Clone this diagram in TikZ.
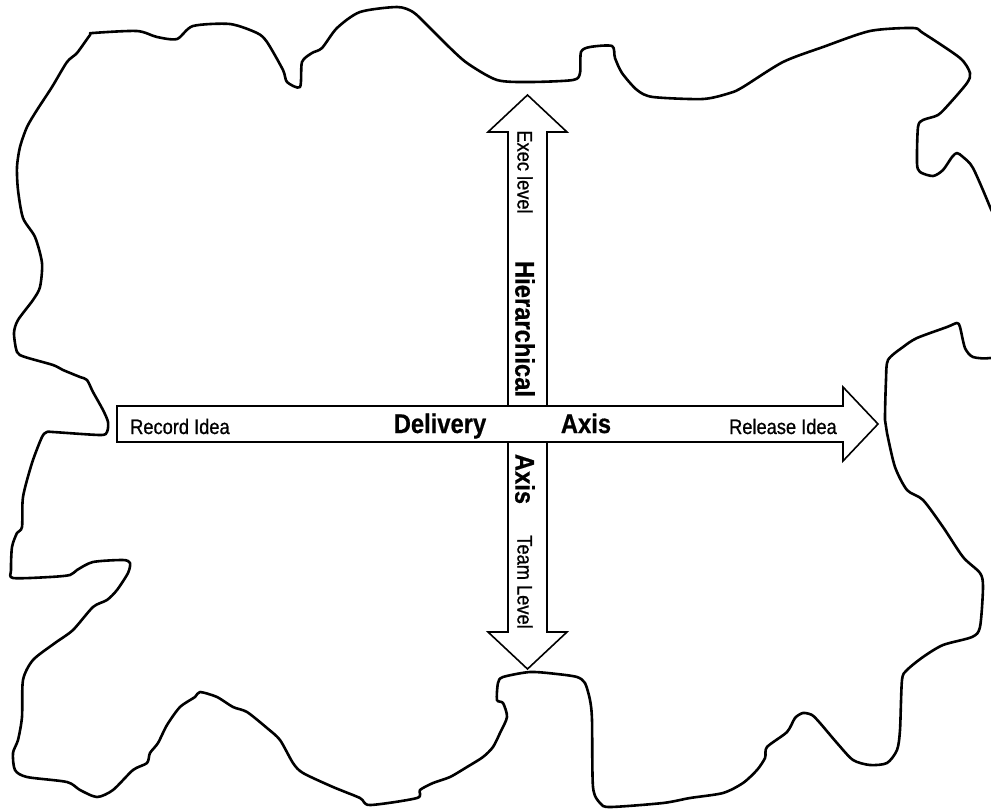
\documentclass[tikz,border=0pt]{standalone}
\usepackage{fontspec}
\setmainfont{Liberation Sans}[FakeStretch=0.88]
\newfontfamily\endfont{Liberation Sans}[FakeStretch=0.87,FakeBold=0.8]
\newfontfamily\axisfont{Liberation Sans}[FakeStretch=0.88,FakeBold=0.6]
\begin{document}
\begin{tikzpicture}[x=1pt,y=-1pt,
  hide/.style={line width=2.6pt,line join=round,black},
  axisarrow/.style={draw=black,fill=white,line width=1.6pt,line join=miter},
  endlabel/.style={inner sep=0pt,font=\endfont\fontsize{21}{21}\selectfont},
  axislabel/.style={inner sep=0pt,font=\axisfont\fontsize{27}{27}\selectfont\bfseries},
  vert/.style={rotate=-90,anchor=center}]
\useasboundingbox (0,0) rectangle (991,809);
\clip (0,0) rectangle (991,809);

% irregular hide outline
\draw[hide] plot[smooth cycle,tension=0.45] coordinates {
 (90,35) (93,33) (137,31) (157,37) (177,39) (193,26) (230,24) (257,33) (267,42)
 (283,70) (287,82) (300,87) (302,62) (312,53) (322,48) (337,28) (360,12) (397,7)
 (413,12) (427,25) (447,45) (467,63) (497,80) (530,82) (573,80) (580,73) (581,52)
 (590,47) (612,46) (615,58) (622,73) (637,90) (653,97) (703,99) (730,93) (743,87)
 (783,62) (823,47) (870,31) (913,28) (923,33) (960,58) (970,73) (967,83) (950,103)
 (938,115) (923,120) (918,127) (917,163) (920,172) (933,176) (943,170) (952,157)
 (957,153) (963,157) (973,168) (990,207) (1002,240) (1002,350) (990,358) (973,357)
 (965,348) (960,327) (957,323) (947,327) (917,338) (903,347) (888,360) (886,380)
 (885,420) (887,433) (895,467) (907,490) (923,500) (943,527) (963,557) (980,573)
 (983,587) (980,627) (972,637) (943,645) (923,657) (907,670) (902,680) (900,730)
 (897,750) (887,763) (870,765) (853,760) (837,743) (820,723) (812,715) (803,713)
 (795,718) (787,732) (767,747) (765,758) (757,770) (743,783) (723,793) (690,798)
 (663,803) (610,807) (600,803) (593,787) (592,720) (590,700) (585,683) (577,677)
 (557,674) (530,672) (503,677) (498,683) (497,700) (503,703) (507,717) (500,733)
 (493,747) (483,757) (467,767) (450,777) (433,783) (420,790) (417,798) (370,805)
 (360,798) (333,787) (303,773) (293,763) (280,740) (267,728) (247,712) (233,707)
 (217,697) (200,692) (195,697) (180,707) (167,725) (158,743) (150,753) (147,763)
 (133,770) (113,790) (97,797) (80,790) (67,782) (27,777) (15,770) (13,753) (18,740)
 (22,717) (23,680) (33,660) (55,643) (73,630) (93,607) (107,600) (117,590) (128,573)
 (130,563) (123,560) (93,562) (77,570) (70,575) (50,577) (13,578) (11,570) (12,547)
 (17,533) (22,527) (23,497) (32,463) (42,437) (47,432) (53,432) (100,435) (107,432)
 (108,422) (103,410) (93,392) (87,380) (80,377) (63,370) (53,365) (25,357) (17,352)
 (14,333) (18,320) (33,300) (40,287) (42,263) (35,237) (23,218) (18,190) (17,167)
 (20,147) (27,127) (37,110) (52,87) (67,62) (77,53)};

% hierarchical axis: double-headed vertical arrow
\coordinate (topTip) at (527.5,95);
\coordinate (botTip) at (527.5,669);
\draw[axisarrow] (topTip) -- (567,132) -- (547,132) -- (547,632) -- (567,632)
  -- (botTip) -- (488,632) -- (508,632) -- (508,132) -- (488,132) -- cycle;

% delivery axis: single-headed horizontal arrow drawn over it
\coordinate (leftEnd) at (117,424);
\coordinate (rightTip) at (878,424);
\draw[axisarrow] (117,406) -- (843,406) -- (843,387) -- (rightTip)
  -- (843,461) -- (843,442) -- (117,442) -- cycle;

% labels along the delivery axis
\node[endlabel,anchor=base west] (record) at (130,434) {Record Idea};
\node[axislabel,anchor=base] (delivery) at (440,433) {Delivery};
\node[axislabel,anchor=base] (haxis) at (586,433) {Axis};
\node[endlabel,anchor=base east] (release) at (837,434) {Release Idea};

% labels along the hierarchical axis
\node[endlabel,vert] (exec) at (525,172) {Exec level};
\node[axislabel,vert] (hier) at (525,329) {Hierarchical};
\node[axislabel,vert] (vaxis) at (525,479) {Axis};
\node[endlabel,vert] (team) at (525,582) {Team Level};
\end{tikzpicture}
\end{document}
